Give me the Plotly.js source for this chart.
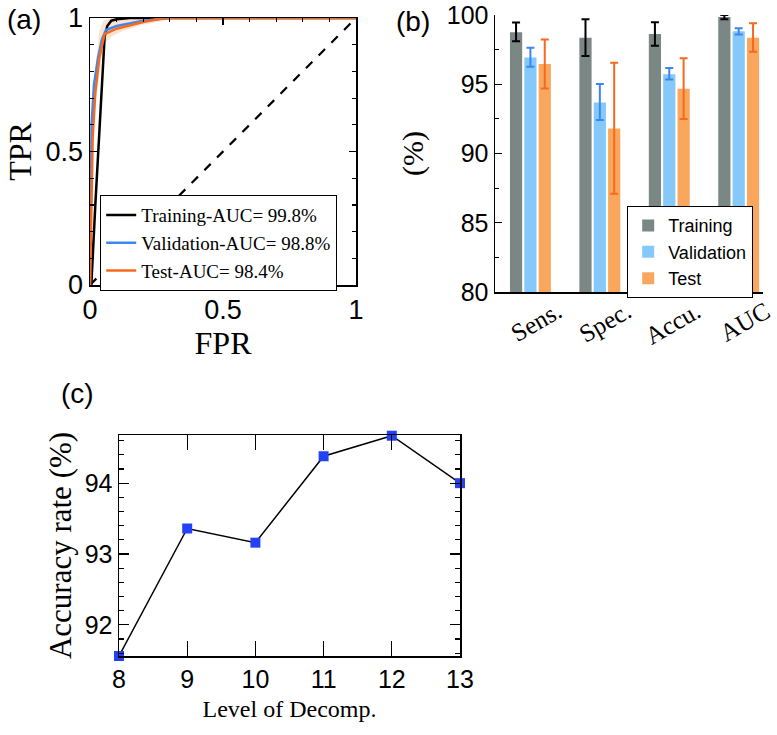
<!DOCTYPE html>
<html>
<head>
<meta charset="utf-8">
<script src="https://cdn.plot.ly/plotly-3.0.1.min.js"></script>
<style>
  body { margin: 0; background: white; }
  #chart { width: 777px; height: 735px; }
</style>
</head>
<body>
<div id="chart"></div>
<script>
//Data
// (a) ROC curves
let rocTrainFPR = [0, 0.005, 0.02, 0.04, 0.055, 0.065, 0.08, 0.1, 0.15, 0.25, 1];
let rocTrainTPR = [0, 0, 0.3, 0.68, 0.93, 0.97, 0.99, 0.995, 1, 1, 1];
let rocValFPR = [0, 0.003, 0.006, 0.015, 0.03, 0.045, 0.06, 0.1, 0.2, 0.3, 1];
let rocValTPR = [0, 0.3, 0.6, 0.75, 0.85, 0.92, 0.955, 0.97, 0.99, 1, 1];
let rocTestFPR = [0, 0.005, 0.01, 0.02, 0.035, 0.055, 0.1, 0.2, 0.28, 1];
let rocTestTPR = [0, 0.3, 0.55, 0.72, 0.85, 0.94, 0.96, 0.985, 1, 1];
let bandTestFPR = [0.02, 0.035, 0.05, 0.08, 0.12, 0.2, 0.3];
let bandTestLow = [0.68, 0.8, 0.9, 0.93, 0.95, 0.975, 0.995];
let bandTestHigh = [0.8, 0.95, 0.99, 1, 1, 1, 1];
let aucLabels = ['Training-AUC= 99.8%', 'Validation-AUC= 98.8%', 'Test-AUC= 98.4%'];

// (b) metrics
let metrics = ['Sens.', 'Spec.', 'Accu.', 'AUC'];
let trainVals = [98.75, 98.36, 98.63, 99.85];
let trainErrUp = [0.7, 1.33, 0.84, 0.15];
let trainErrDown = [0.65, 1.32, 0.85, 0.16];
let valVals = [96.94, 93.69, 95.73, 98.82];
let valErrUp = [0.7, 1.32, 0.44, 0.22];
let valErrDown = [0.67, 1.28, 0.38, 0.22];
let testVals = [96.46, 91.8, 94.67, 98.36];
let testErrUp = [1.78, 4.75, 2.2, 1.04];
let testErrDown = [1.76, 4.7, 2.17, 1.01];

// (c) accuracy vs decomposition level
let levels = [8, 9, 10, 11, 12, 13];
let accuracy = [91.56, 93.36, 93.16, 94.38, 94.67, 94.0];

//Layout helpers
let W = 777, H = 735;
function px(x) { return x / W; }
function py(y) { return 1 - y / H; }

let serif = 'Liberation Serif, Times New Roman, serif';
let sans = 'Liberation Sans, Arial, sans-serif';

let colTrain = '#000000', colVal = '#3d87f0', colTest = '#f56a1e';

let data = [
    // (a)
    {x: [0, 1], y: [0, 1], mode: 'lines', line: {color: 'black', width: 2.2, dash: 'dash'},
     xaxis: 'x', yaxis: 'y', showlegend: false, hoverinfo: 'skip'},
    {x: bandTestFPR, y: bandTestLow, mode: 'lines', line: {width: 0}, showlegend: false,
     xaxis: 'x', yaxis: 'y', hoverinfo: 'skip'},
    {x: bandTestFPR, y: bandTestHigh, mode: 'lines', line: {width: 0}, fill: 'tonexty',
     fillcolor: 'rgba(248,190,150,0.45)', showlegend: false, xaxis: 'x', yaxis: 'y', hoverinfo: 'skip'},
    {x: rocTrainFPR, y: rocTrainTPR, mode: 'lines', name: aucLabels[0], line: {color: colTrain, width: 2.5},
     xaxis: 'x', yaxis: 'y', legend: 'legend'},
    {x: rocValFPR, y: rocValTPR, mode: 'lines', name: aucLabels[1], line: {color: colVal, width: 2.5},
     xaxis: 'x', yaxis: 'y', legend: 'legend'},
    {x: rocTestFPR, y: rocTestTPR, mode: 'lines', name: aucLabels[2], line: {color: colTest, width: 2.5},
     xaxis: 'x', yaxis: 'y', legend: 'legend'},
    // (b)
    {type: 'bar', x: metrics, y: trainVals, name: 'Training', marker: {color: '#7a8785'},
     error_y: {type: 'data', symmetric: false, array: trainErrUp, arrayminus: trainErrDown, color: 'black', thickness: 2, width: 4},
     xaxis: 'x2', yaxis: 'y2', legend: 'legend2'},
    {type: 'bar', x: metrics, y: valVals, name: 'Validation', marker: {color: '#84c9fa'},
     error_y: {type: 'data', symmetric: false, array: valErrUp, arrayminus: valErrDown, color: colVal, thickness: 2, width: 4},
     xaxis: 'x2', yaxis: 'y2', legend: 'legend2'},
    {type: 'bar', x: metrics, y: testVals, name: 'Test', marker: {color: '#f9a75c'},
     error_y: {type: 'data', symmetric: false, array: testErrUp, arrayminus: testErrDown, color: colTest, thickness: 2, width: 4},
     xaxis: 'x2', yaxis: 'y2', legend: 'legend2'},
    // (c)
    {x: levels, y: accuracy, mode: 'lines+markers', line: {color: 'black', width: 1.5},
     marker: {symbol: 'square', size: 10, color: '#2342f5'}, cliponaxis: false,
     xaxis: 'x3', yaxis: 'y3', showlegend: false}
];

let boxAxis = {
    showline: true, linecolor: 'black', linewidth: 1.5, mirror: 'ticks',
    ticks: 'inside', ticklen: 7, tickcolor: 'black', tickwidth: 1.2,
    showgrid: false, zeroline: false, fixedrange: true
};

let layout = {
    width: W, height: H,
    margin: {l: 0, r: 0, t: 0, b: 0},
    paper_bgcolor: 'white', plot_bgcolor: 'white',
    barmode: 'group', bargap: 0.38, bargroupgap: 0.15,
    xaxis: Object.assign({}, boxAxis, {
        domain: [px(90), px(356)], anchor: 'y', range: [0, 1],
        tickvals: [0, 0.5, 1], ticktext: ['0', '0.5', '1'],
        minor: {dtick: 0.1, ticks: 'inside', ticklen: 4, tickcolor: 'black'},
        tickfont: {family: sans, size: 27, color: 'black'},
        title: {text: 'FPR', font: {family: serif, size: 32, color: 'black'}, standoff: 2}
    }),
    yaxis: Object.assign({}, boxAxis, {
        domain: [py(285), py(18)], anchor: 'x', range: [0, 1],
        tickvals: [0, 0.5, 1], ticktext: ['0', '0.5', '1'],
        minor: {dtick: 0.1, ticks: 'inside', ticklen: 4, tickcolor: 'black'},
        tickfont: {family: sans, size: 27, color: 'black'},
        title: {text: 'TPR', font: {family: serif, size: 32, color: 'black'}, standoff: 4}
    }),
    xaxis2: {
        domain: [px(495), px(763)], anchor: 'y2', range: [-0.51, 3.35],
        showline: true, linecolor: 'black', linewidth: 1.5, ticks: '',
        showgrid: false, zeroline: false, tickangle: -30, fixedrange: true,
        ticklabelshift: 27, ticklabelstandoff: -6,
        tickfont: {family: serif, size: 25, color: 'black'}
    },
    yaxis2: {
        domain: [py(292), py(15)], anchor: 'x2', range: [80, 100],
        showline: true, linecolor: 'black', linewidth: 1.5,
        ticks: 'inside', ticklen: 7, tickcolor: 'black', tickvals: [80, 85, 90, 95, 100],
        minor: {dtick: 2.5, ticks: 'inside', ticklen: 4, tickcolor: 'black'},
        showgrid: false, zeroline: false, fixedrange: true,
        tickfont: {family: sans, size: 25, color: 'black'},
        title: {text: '(%)', font: {family: serif, size: 30, color: 'black'}, standoff: 14}
    },
    xaxis3: Object.assign({}, boxAxis, {
        domain: [px(119), px(460)], anchor: 'y3', range: [8, 13], dtick: 1, ticklen: 15,
        tickfont: {family: sans, size: 25, color: 'black'},
        title: {text: 'Level of Decomp.', font: {family: serif, size: 24, color: 'black'}, standoff: 8}
    }),
    yaxis3: Object.assign({}, boxAxis, {
        domain: [py(656), py(435)], anchor: 'x3', range: [91.56, 94.68],
        tickvals: [92, 93, 94], ticklen: 10,
        minor: {dtick: 0.2, ticks: 'inside', ticklen: 5, tickcolor: 'black'},
        tickfont: {family: sans, size: 25, color: 'black'},
        title: {text: 'Accuracy rate (%)', font: {family: serif, size: 31, color: 'black'}, standoff: 4}
    }),
    legend: {
        x: px(100), y: py(195), xanchor: 'left', yanchor: 'top',
        bgcolor: 'white', bordercolor: 'black', borderwidth: 1.2,
        font: {family: serif, size: 19, color: 'black'},
        traceorder: 'normal', tracegroupgap: 0, itemwidth: 30
    },
    legend2: {
        x: px(627), y: py(206), xanchor: 'left', yanchor: 'top',
        bgcolor: 'white', bordercolor: 'black', borderwidth: 1.2,
        font: {family: sans, size: 18, color: 'black'},
        traceorder: 'normal', tracegroupgap: 0
    },
    annotations: [
        {text: '(a)', x: px(24), y: py(19), xref: 'paper', yref: 'paper', showarrow: false,
         xanchor: 'center', yanchor: 'middle', font: {family: sans, size: 28, color: 'black'}},
        {text: '(b)', x: px(413), y: py(21), xref: 'paper', yref: 'paper', showarrow: false,
         xanchor: 'center', yanchor: 'middle', font: {family: sans, size: 28, color: 'black'}},
        {text: '(c)', x: px(77), y: py(394), xref: 'paper', yref: 'paper', showarrow: false,
         xanchor: 'center', yanchor: 'middle', font: {family: sans, size: 28, color: 'black'}}
    ]
};

Plotly.newPlot('chart', data, layout, {staticPlot: true});
</script>
</body>
</html>
